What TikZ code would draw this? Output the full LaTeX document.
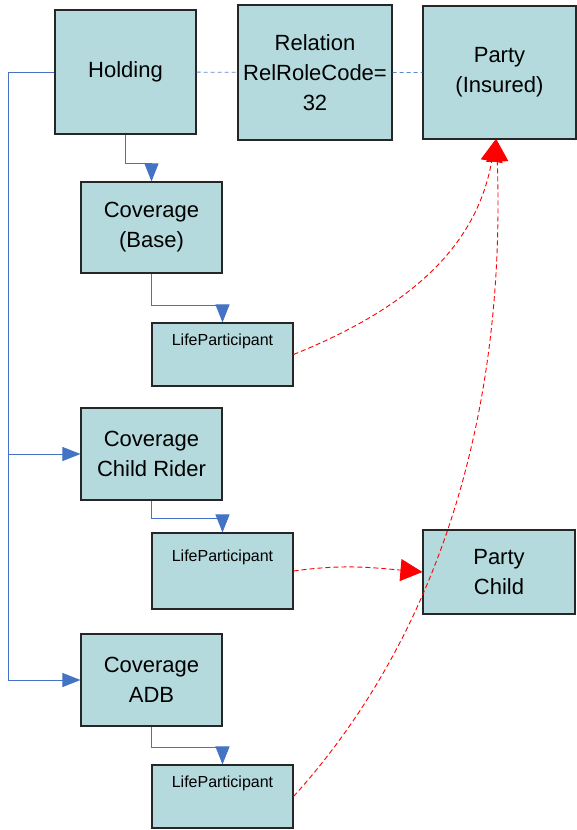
\documentclass[tikz,border=0pt]{standalone}
\usepackage{fontspec}
\setmainfont{Liberation Sans}
\usepackage{xcolor}
\usetikzlibrary{arrows.meta}

\definecolor{boxfill}{RGB}{180,218,222}
\definecolor{flowblue}{RGB}{68,114,196}
\definecolor{linkblue}{RGB}{90,135,210}

\tikzset{
    entity/.style={rectangle, draw=black!85, line width=1.1pt, fill=boxfill,
        inner sep=0pt, align=center, font=\fontsize{22}{30}\selectfont},
    part/.style={entity, minimum width=141pt, font=\fontsize{16}{20}\selectfont},
    flow/.style={draw=flowblue, line width=0.9pt, -{Triangle[width=14pt,length=18pt]}},
    link/.style={draw=linkblue, line width=0.9pt, dash pattern=on 4pt off 3pt},
    ref/.style={draw=red, line width=0.9pt, dash pattern=on 5pt off 3pt,
        -{Triangle[width=22pt,length=22pt]}}
}

\begin{document}
\begin{tikzpicture}[x=1pt, y=-1pt]
        \useasboundingbox (0,0) rectangle (577,830);

        \node[entity, minimum width=141pt, minimum height=124pt] (holding) at (125.5, 72) {Holding};
        \node[entity, minimum width=154pt, minimum height=135pt] (relation) at (315, 72.5) {Relation\\RelRoleCode=\\32};
        \node[entity, minimum width=153pt, minimum height=133pt] (insured) at (499.5, 72.5) {Party\\(Insured)};

        \node[entity, minimum width=141pt, minimum height=91pt] (covbase) at (151.5, 227.5) {Coverage\\(Base)};
        \node[entity, minimum width=141pt, minimum height=92pt] (covchild) at (151.5, 454) {Coverage\\Child Rider};
        \node[entity, minimum width=141pt, minimum height=92pt] (covadb) at (151.5, 680) {Coverage\\ADB};

        \node[part, minimum height=63pt, text height=12pt, text depth=30pt] (lp1) at (222.5, 354.5) {LifeParticipant};
        \node[part, minimum height=76pt, text height=12pt, text depth=32pt] (lp2) at (222.5, 571) {LifeParticipant};
        \node[part, minimum height=63pt, text height=12pt, text depth=30pt] (lp3) at (222.5, 796.5) {LifeParticipant};

        \node[entity, minimum width=152pt, minimum height=84pt] (child) at (499, 572) {Party\\Child};

        \coordinate (bus) at (8, 72);

        % holding to relation to party
        \draw[link] (holding) -- (relation)
            (relation) -- (insured);

        % holding down to the coverages
        \draw[flow] (holding.south) -- ++(0,29) -| (covbase.north);
        \draw[flow] (holding.west) -- (bus) |- (covadb.west);
        \draw[flow] (bus) |- (covchild.west);

        % coverages to participants
        \draw[flow] (covbase.south) -- ++(0,32) -| (lp1.north);
        \draw[flow] (covchild.south) -- ++(0,18) -| (lp2.north);
        \draw[flow] (covadb.south) -- ++(0,21) -| (lp3.north);

        % participants to parties
        \draw[ref] (lp1.east) to[out=22, in=-100] ([xshift=-4pt]insured.south);
        \draw[ref] (lp3.east) to[out=48, in=-88, looseness=0.9] ([xshift=-3pt]insured.south);
        \draw[ref] (lp2.east) to[out=8, in=175] (child.west);
    \end{tikzpicture}
\end{document}
